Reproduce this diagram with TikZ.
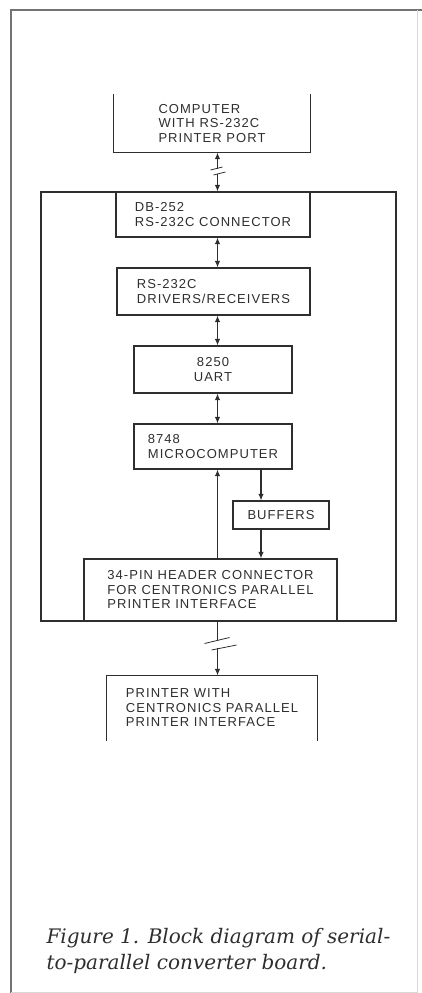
\documentclass[tikz,border=0pt]{standalone}
\usepackage{fontspec}
\setmainfont{Liberation Serif}
\newfontfamily\boxfont{Liberation Sans}[LetterSpace=8]
\newfontfamily\capfont{DejaVu Serif}
\usetikzlibrary{arrows.meta, calc}
\definecolor{ink}{gray}{0.18}
\tikzset{
  blk/.style={rectangle, draw=ink, line width=1.2pt, align=left, inner sep=0pt,
    text=ink, font=\boxfont\fontsize{13}{14.5}\selectfont},
  board/.style={rectangle, draw=ink, line width=1.2pt},
  arr/.style={-{Latex[length=6.5pt,width=5.5pt]}, line width=1.1pt, draw=ink},
  dbl/.style={{Latex[length=6.5pt,width=5.5pt]}-{Latex[length=6.5pt,width=5.5pt]}, line width=1.1pt, draw=ink},
  brk/.style={line width=0.8pt, draw=ink},
  frame/.style={line width=1.6pt, draw=black!55},
  faint/.style={line width=0.8pt, draw=black!15},
}

\begin{document}
\begin{tikzpicture}[x=1pt, y=1pt]
  \useasboundingbox (0,0) rectangle (422,-993);
  % Page frame
  \draw[frame] (11,-993) -- (11,-10) -- (422,-10);
  \draw[faint] (417,-10) -- (417,-992) -- (11,-992);

  % Outside the board
  \node[blk, draw=none, minimum width=196pt, minimum height=57pt] (comp) at (212,-123.5)
    {COMPUTER\\WITH RS-232C\\PRINTER PORT};
  \node[blk, draw=none, minimum width=210pt, minimum height=64pt] (prn) at (212,-708)
    {PRINTER WITH\\CENTRONICS PARALLEL\\PRINTER INTERFACE};
  \draw[line width=1.2pt, draw=ink] (comp.north west) -- (comp.south west) -- (comp.south east) -- (comp.north east);
  \draw[line width=1.2pt, draw=ink] (prn.south west) -- (prn.north west) -- (prn.north east) -- (prn.south east);

  % Converter board
  \node[board, minimum width=355pt, minimum height=429pt] (board) at (218.5,-406.5) {};
  \node[blk, minimum width=194pt, minimum height=45pt] (db) at (213,-214.5)
    {DB-252\\RS-232C CONNECTOR};
  \node[blk, minimum width=193pt, minimum height=47pt] (drv) at (213.5,-291.5)
    {RS-232C\\DRIVERS/RECEIVERS};
  \node[blk, align=center, minimum width=158pt, minimum height=47pt] (uart) at (213,-369.5)
    {8250\\UART};
  \node[blk, minimum width=158pt, minimum height=45pt] (micro) at (213,-446.5)
    {8748\\MICROCOMPUTER};
  \node[blk, align=center, minimum width=96pt, minimum height=28pt] (buf) at (281,-515)
    {BUFFERS};
  \node[blk, minimum width=253pt, minimum height=62pt] (hdr) at (210.5,-590)
    {34-PIN HEADER CONNECTOR\\FOR CENTRONICS PARALLEL\\PRINTER INTERFACE};

  % Connector lines
  \coordinate (spine) at (217.5,0);
  \coordinate (bufx) at (261,0);
  \coordinate (brkA) at (217.5,-168.5);
  \coordinate (brkB) at (217.5,-173.5);
  \coordinate (brkC) at (217.5,-640.5);
  \coordinate (brkD) at (217.5,-647.5);

  \draw[arr] (brkA) -- (comp.south -| spine);
  \draw[arr] (brkB) -- (db.north -| spine);
  \draw[brk] ($(brkA)+(-7,-1.5)$) -- ($(brkA)+(5,1.5)$);
  \draw[brk] ($(brkB)+(-4,-1.5)$) -- ($(brkB)+(8,1.5)$);

  \draw[dbl] (db.south -| spine) -- (drv.north -| spine);
  \draw[dbl] (drv.south -| spine) -- (uart.north -| spine);
  \draw[dbl] (uart.south -| spine) -- (micro.north -| spine);
  \draw[arr] (hdr.north -| spine) -- (micro.south -| spine);
  \draw[arr] (micro.south -| bufx) -- (buf.north -| bufx);
  \draw[arr] (buf.south -| bufx) -- (hdr.north -| bufx);

  \draw[line width=1.1pt, draw=ink] (hdr.south -| spine) -- (brkC);
  \draw[arr] (brkD) -- (prn.north -| spine);
  \draw[brk] ($(brkC)+(-13,-3)$) -- ($(brkC)+(12,3)$);
  \draw[brk] ($(brkD)+(-6,-2.5)$) -- ($(brkD)+(19,2.5)$);

  % Caption
  \node[anchor=base west, align=left, text=ink, font=\capfont\itshape\fontsize{20}{26}\selectfont] (cap) at (43,-969)
    {Figure 1. Block diagram of serial-\\to-parallel converter board.};
\end{tikzpicture}
\end{document}
